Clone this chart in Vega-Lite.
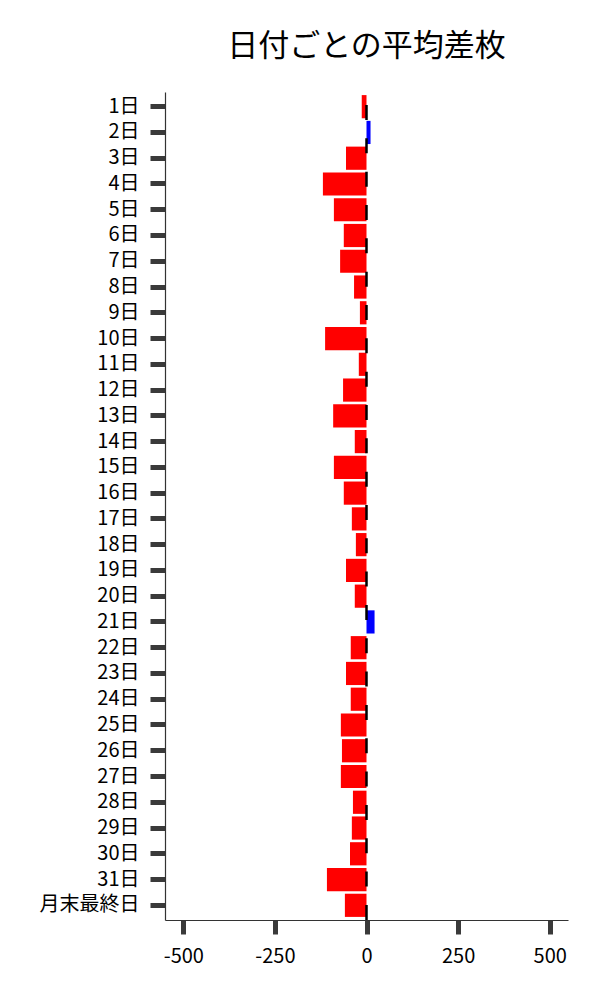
{
  "$schema": "https://vega.github.io/schema/vega-lite/v6.json",
  "title": {
    "text": "日付ごとの平均差枚",
    "font": "Noto Sans CJK JP",
    "fontSize": 31,
    "fontWeight": "normal",
    "color": "#000000",
    "anchor": "middle",
    "frame": "group",
    "baseline": "alphabetic",
    "offset": 4
  },
  "autosize": {"type": "none"},
  "padding": {"left": 165, "top": 92, "right": 32, "bottom": 80},
  "width": 403,
  "height": 828,
  "background": "#ffffff",
  "config": {
    "view": {"stroke": null},
    "font": "Noto Sans CJK JP"
  },
  "data": {
    "values": [
      {"day": "1日", "value": -13},
      {"day": "2日", "value": 11},
      {"day": "3日", "value": -56},
      {"day": "4日", "value": -119},
      {"day": "5日", "value": -89},
      {"day": "6日", "value": -62},
      {"day": "7日", "value": -72},
      {"day": "8日", "value": -34},
      {"day": "9日", "value": -18},
      {"day": "10日", "value": -113},
      {"day": "11日", "value": -21},
      {"day": "12日", "value": -64},
      {"day": "13日", "value": -91},
      {"day": "14日", "value": -32},
      {"day": "15日", "value": -89},
      {"day": "16日", "value": -62},
      {"day": "17日", "value": -40},
      {"day": "18日", "value": -29},
      {"day": "19日", "value": -56},
      {"day": "20日", "value": -32},
      {"day": "21日", "value": 22},
      {"day": "22日", "value": -43},
      {"day": "23日", "value": -56},
      {"day": "24日", "value": -43},
      {"day": "25日", "value": -70},
      {"day": "26日", "value": -67},
      {"day": "27日", "value": -70},
      {"day": "28日", "value": -37},
      {"day": "29日", "value": -40},
      {"day": "30日", "value": -45},
      {"day": "31日", "value": -108},
      {"day": "月末最終日", "value": -59}
    ]
  },
  "layer": [
    {
      "mark": {"type": "bar"},
      "encoding": {
        "y": {
          "field": "day",
          "type": "nominal",
          "sort": null,
          "scale": {"paddingInner": 0.1, "paddingOuter": 0.12},
          "axis": {
            "title": null,
            "labelFont": "Noto Sans CJK JP",
            "labelFontSize": 20,
            "labelColor": "#000000",
            "labelPadding": 11,
            "labelOverlap": false,
            "tickSize": 15,
            "tickWidth": 5,
            "tickColor": "#3a3a3a",
            "domainColor": "#333333",
            "domainWidth": 1.2,
            "grid": false
          }
        },
        "x": {
          "field": "value",
          "type": "quantitative",
          "scale": {"domain": [-550, 550], "nice": false, "zero": false},
          "axis": {
            "title": null,
            "values": [-500, -250, 0, 250, 500],
            "labelExpr": "datum.value < 0 ? '-' + abs(datum.value) : '' + datum.value",
            "labelFont": "Noto Sans CJK JP",
            "labelFontSize": 20,
            "labelColor": "#000000",
            "labelPadding": 12,
            "tickSize": 14,
            "tickWidth": 5,
            "tickColor": "#3a3a3a",
            "domainColor": "#333333",
            "domainWidth": 1.2,
            "grid": false
          }
        },
        "color": {
          "condition": {"test": "datum.value > 0", "value": "#0000ff"},
          "value": "#ff0000"
        }
      }
    },
    {
      "mark": {
        "type": "rule",
        "color": "#000000",
        "strokeWidth": 2.5,
        "strokeDash": [15, 18.33],
        "strokeDashOffset": 20.33
      },
      "data": {"values": [{"zero": 0}]},
      "encoding": {
        "x": {"field": "zero", "type": "quantitative"}
      }
    }
  ]
}
